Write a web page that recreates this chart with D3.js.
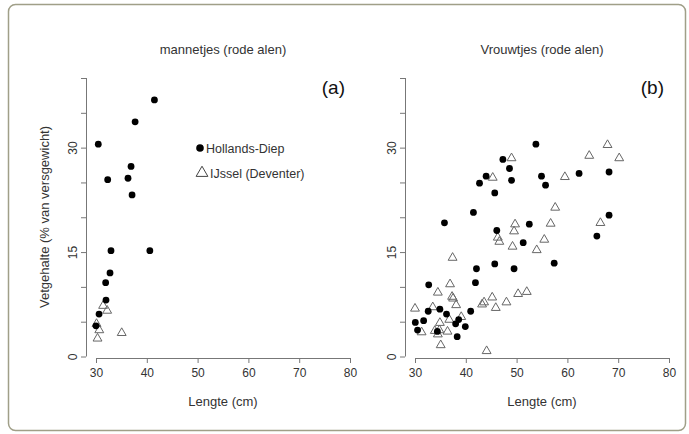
<!DOCTYPE html>
<html>
<head>
<meta charset="utf-8">
<script src="https://cdn.jsdelivr.net/npm/d3@7"></script>
<style>
  body { margin: 0; background: #fff; }
  svg text { font-family: "Liberation Sans", Arial, sans-serif; fill: #333; }
  .axis path, .axis line { stroke: #777; }
</style>
</head>
<body>
<div id="viz"></div>
<script>
var width = 689,
    height = 434;

// panel (a): mannetjes
var maleHD = [[30.45,30.5],[41.5,36.85],[37.7,33.7],[36.9,27.3],[36.3,25.6],[32.3,25.4],
  [37.1,23.2],[32.95,15.2],[40.6,15.2],[32.76,12.0],[31.9,10.6],[31.97,8.1],[30.6,6.1],[30.0,4.4]];
var maleIJ = [[31.4,7.4],[32.2,6.7],[30.65,3.9],[30.3,2.7],[35.06,3.5],[30.1,4.8]];

// panel (b): vrouwtjes
var femaleHD = [[30.06,4.9],[30.5,3.8],[31.7,5.15],[32.7,10.3],[32.6,6.5],[34.9,6.8],[34.4,3.6],
  [35.8,19.2],[36.2,6.1],[38.0,4.7],[38.6,5.3],[38.3,2.85],[39.9,4.3],[40.96,6.5],[41.5,20.7],
  [41.9,10.6],[42.1,12.6],[42.7,24.9],[44.0,25.9],[45.7,23.5],[45.7,13.3],[46.1,18.1],[47.3,28.3],
  [48.6,27.0],[49.0,25.3],[49.5,12.6],[53.8,30.5],[52.5,19.0],[51.3,16.35],[54.9,25.9],[55.7,24.6],
  [57.4,13.4],[62.3,26.3],[68.2,26.5],[68.2,20.3],[65.8,17.3]];
var femaleIJ = [[30.0,7.0],[31.3,3.6],[33.5,7.2],[34.5,9.3],[33.9,3.8],[34.5,3.3],[34.9,4.95],
  [34.8,3.9],[35.06,1.75],[36.4,3.7],[36.75,5.4],[36.9,10.5],[37.4,14.3],[37.3,8.7],[37.5,8.45],
  [38.1,7.5],[39.1,5.8],[43.2,7.6],[43.6,7.9],[44.1,0.9],[45.2,8.6],[45.3,25.8],[45.9,7.1],
  [46.3,17.2],[46.6,16.6],[48.0,7.9],[49.0,28.6],[49.2,15.9],[49.5,18.1],[49.7,19.1],[50.3,9.1],
  [52.0,9.4],[53.96,15.4],[55.45,16.9],[56.7,19.2],[57.6,21.5],[59.5,25.9],[64.3,28.95],
  [67.9,30.5],[70.2,28.6],[66.5,19.3]];

var xTicks = [30, 40, 50, 60, 70, 80];
var yTicks = [0, 5, 10, 15, 20, 25, 30, 35, 40];
var yLabelled = [0, 15, 30];
var legendLabels = ["Hollands-Diep", "IJssel (Deventer)"];

var svg = d3.select("#viz").append("svg")
    .attr("width", width)
    .attr("height", height);

// frame
svg.append("rect")
    .attr("x", 8.5).attr("y", 4.5)
    .attr("width", 677).attr("height", 426)
    .attr("rx", 7)
    .attr("fill", "none")
    .attr("stroke", "#a09f88")
    .attr("stroke-width", 1.5);

var triangle = d3.symbol().type(d3.symbolTriangle).size(34);

function panel(left, title, tag, hd, ij) {
  var x = d3.scaleLinear().domain([30, 80]).range([left, left + 254]);
  var y = d3.scaleLinear().domain([0, 40]).range([356.5, 78]);
  var g = svg.append("g");

  g.append("text")
      .attr("x", left + 127).attr("y", 54)
      .attr("text-anchor", "middle")
      .style("font-size", "13px")
      .text(title);

  g.append("g").attr("class", "axis")
      .attr("transform", "translate(0,358)")
      .call(d3.axisBottom(x).tickValues(xTicks).tickSize(5).tickPadding(5))
      .call(function(s) {
        s.select(".domain").attr("d", "M" + x(30) + ",0.5H" + x(80));
        s.selectAll("text").style("font-size", "12px").attr("fill", "#333");
      });

  g.append("g").attr("class", "axis")
      .attr("transform", "translate(" + (left - 10) + ",0)")
      .call(d3.axisLeft(y).tickValues(yTicks).tickSize(5)
        .tickFormat(function(d) { return yLabelled.indexOf(d) >= 0 ? d : ""; }))
      .call(function(s) {
        s.select(".domain").attr("d", "M0.5," + y(40) + "V" + y(0));
        s.selectAll("text")
          .style("font-size", "12px").attr("fill", "#333")
          .attr("x", null).attr("dy", null)
          .attr("text-anchor", "middle")
          .attr("transform", "translate(-9,0) rotate(-90)");
      });

  g.append("text")
      .attr("x", left + 249).attr("y", 94)
      .attr("text-anchor", "end")
      .style("font-size", "19px")
      .style("fill", "#111")
      .text(tag);

  g.append("text")
      .attr("x", left + 127).attr("y", 406)
      .attr("text-anchor", "middle")
      .style("font-size", "13px")
      .text("Lengte (cm)");

  g.selectAll("path.ij").data(ij).enter().append("path")
      .attr("class", "ij")
      .attr("d", triangle)
      .attr("transform", function(d) { return "translate(" + x(d[0]) + "," + (y(d[1]) + 0.8) + ")"; })
      .attr("fill", "none")
      .attr("stroke", "#666")
      .attr("stroke-width", 1);

  g.selectAll("circle.hd").data(hd).enter().append("circle")
      .attr("class", "hd")
      .attr("cx", function(d) { return x(d[0]); })
      .attr("cy", function(d) { return y(d[1]); })
      .attr("r", 3.4)
      .attr("fill", "#000");

  return {x: x, y: y, g: g};
}

var a = panel(96, "mannetjes (rode alen)", "(a)", maleHD, maleIJ);
panel(415, "Vrouwtjes (rode alen)", "(b)", femaleHD, femaleIJ);

// y axis title
svg.append("text")
    .attr("transform", "translate(49,217) rotate(-90)")
    .attr("text-anchor", "middle")
    .style("font-size", "13px")
    .text("Vetgehalte (% van versgewicht)");

// legend
var leg = a.g.append("g");
leg.append("circle")
    .attr("cx", 200).attr("cy", 148).attr("r", 3.8).attr("fill", "#000");
leg.append("path")
    .attr("d", d3.symbol().type(d3.symbolTriangle).size(60))
    .attr("transform", "translate(202,173)")
    .attr("fill", "none").attr("stroke", "#444").attr("stroke-width", 1);
leg.selectAll("text.lg").data(legendLabels).enter().append("text")
    .attr("class", "lg")
    .attr("x", function(d, i) { return i ? 210 : 206; })
    .attr("y", function(d, i) { return i ? 178 : 153; })
    .style("font-size", "12.5px")
    .text(function(d) { return d; });
</script>
</body>
</html>
